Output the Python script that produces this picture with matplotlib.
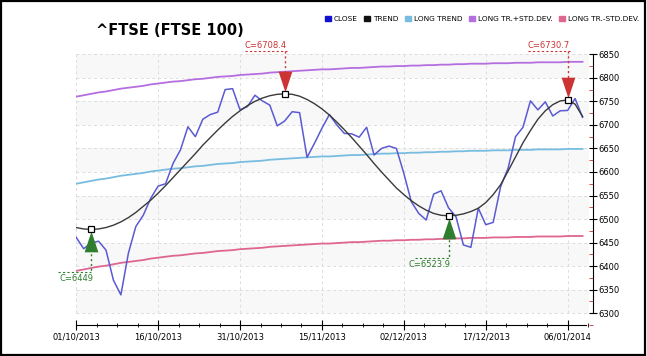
import matplotlib
matplotlib.use('Agg')
import matplotlib.pyplot as plt
from matplotlib.patches import Rectangle, Patch
from matplotlib.ticker import MultipleLocator

# trading days 01/10/2013 .. 08/01/2014 (index on x)
close = [6461, 6437, 6449, 6453, 6434, 6370, 6339, 6427, 6484, 6508,
         6544, 6570, 6575, 6618, 6647, 6696, 6675, 6712, 6722, 6727,
         6775, 6777, 6732, 6739, 6763, 6751, 6742, 6698, 6708.4, 6728,
         6726, 6631, 6661, 6693, 6722, 6700, 6682, 6681, 6674, 6695,
         6636, 6650, 6655, 6650, 6597, 6537, 6512, 6498, 6553, 6560,
         6523.9, 6505, 6445, 6440, 6523, 6488, 6493, 6569, 6608, 6675,
         6695, 6751, 6732, 6749, 6719, 6730, 6730.7, 6756, 6716]

trend = [6482, 6479, 6478, 6479, 6482, 6487, 6494, 6503, 6514, 6527,
         6540, 6555, 6571, 6588, 6605, 6622, 6639, 6657, 6673, 6689,
         6704, 6718, 6730, 6741, 6750, 6757, 6762, 6765, 6766, 6765,
         6761, 6754, 6745, 6734, 6721, 6706, 6690, 6673, 6655, 6637,
         6618, 6600, 6583, 6566, 6552, 6539, 6528, 6519, 6512, 6508,
         6507, 6508, 6511, 6516, 6523, 6535, 6552, 6573, 6602, 6632,
         6662, 6688, 6712, 6730, 6743, 6751, 6753, 6744, 6718]

long_trend = [6575, 6578, 6581, 6584, 6586, 6589, 6592, 6594, 6596, 6598,
              6601, 6603, 6605, 6607, 6608, 6610, 6612, 6613, 6615, 6617,
              6618, 6619, 6621, 6622, 6623, 6624, 6626, 6627, 6628, 6629,
              6630, 6631, 6632, 6633, 6633, 6634, 6635, 6636, 6636, 6637,
              6638, 6639, 6639, 6640, 6640, 6641, 6641, 6642, 6642, 6643,
              6643, 6644, 6644, 6645, 6645, 6645, 6646, 6646, 6646, 6647,
              6647, 6647, 6648, 6648, 6648, 6648, 6649, 6649, 6649]

long_upper = [6760, 6763, 6766, 6769, 6771, 6774, 6777, 6779, 6781, 6783,
              6786, 6788, 6790, 6792, 6793, 6795, 6797, 6798, 6800, 6802,
              6803, 6804, 6806, 6807, 6808, 6809, 6811, 6812, 6813, 6814,
              6815, 6816, 6817, 6818, 6818, 6819, 6820, 6821, 6821, 6822,
              6823, 6824, 6824, 6825, 6825, 6826, 6826, 6827, 6827, 6828,
              6828, 6829, 6829, 6830, 6830, 6830, 6831, 6831, 6831, 6832,
              6832, 6832, 6833, 6833, 6833, 6833, 6834, 6834, 6834]

long_lower = [6390, 6393, 6396, 6399, 6401, 6404, 6407, 6409, 6411, 6413,
              6416, 6418, 6420, 6422, 6423, 6425, 6427, 6428, 6430, 6432,
              6433, 6434, 6436, 6437, 6438, 6439, 6441, 6442, 6443, 6444,
              6445, 6446, 6447, 6448, 6448, 6449, 6450, 6451, 6451, 6452,
              6453, 6454, 6454, 6455, 6455, 6456, 6456, 6457, 6457, 6458,
              6458, 6459, 6459, 6460, 6460, 6460, 6461, 6461, 6461, 6462,
              6462, 6462, 6463, 6463, 6463, 6463, 6464, 6464, 6464]

xtick_idx = [0, 11, 22, 33, 44, 55, 66]
xtick_labels = ['01/10/2013', '16/10/2013', '31/10/2013', '15/11/2013',
                '02/12/2013', '17/12/2013', '06/01/2014']

peak_idx = [28, 66]
trough_idx = [2, 50]

C_CLOSE = '#5a5ad2'
C_TREND = '#3a3a3a'
C_LONG = '#78bde0'
C_UP = '#b56ee0'
C_LOW = '#de6690'
C_RED = '#cc3333'
C_GREEN = '#2f7d2f'

# tall triangle markers, apex at the data point
ARROW_DOWN = [(0, 0), (-0.33, 1), (0.33, 1), (0, 0)]
ARROW_UP = [(0, 0), (-0.33, -1), (0.33, -1), (0, 0)]

fig = plt.figure(figsize=(6.47, 3.56), dpi=100)
ax = fig.add_axes([0.1178, 0.0871, 0.7987, 0.7604])
x = list(range(len(close)))

ax.set_xlim(0, 69.4)
ax.set_ylim(6275, 6850)

# faint banded background + dashed grid
for k, lo in enumerate(range(6300, 6850, 50)):
    if k % 2 == 0:
        ax.axhspan(lo, lo + 50, xmin=0, xmax=68.8 / 69.4, color='#f8f8f8', lw=0, zorder=0)
for lv in range(6300, 6851, 50):
    ax.plot([0, 68.8], [lv, lv], color='#dddddd', lw=0.7, ls=(0, (3, 3)), zorder=1)
for t in xtick_idx:
    ax.plot([t, t], [6300, 6850], color='#dddddd', lw=0.7, ls=(0, (3, 3)), zorder=1)

ax.plot(x, long_upper, color=C_UP, lw=1.3, zorder=3)
ax.plot(x, long_lower, color=C_LOW, lw=1.3, zorder=3)
ax.plot(x, long_trend, color=C_LONG, lw=1.3, zorder=3)
ax.plot(x, close, color=C_CLOSE, lw=1.1, zorder=4)
ax.plot(x, trend, color=C_TREND, lw=1.0, zorder=5)

# peaks: red arrow from label above
for i in peak_idx:
    ty = trend[i]
    lab = 'C=%g' % close[i]
    ax.plot([i, i], [6857, ty + 30], color=C_RED, lw=1, ls=(0, (1.5, 2)), zorder=6, clip_on=False)
    ax.plot(i, ty + 4, marker=ARROW_DOWN, ms=30, color=C_RED, mew=0, zorder=6)
    ax.text(i + 0.3, 6859, lab, color=C_RED, fontsize=6, ha='right', va='bottom', clip_on=False)
    ax.plot([i - 5.3, i + 0.3], [6857, 6857], color=C_RED, lw=0.8, ls=(0, (2, 2)), clip_on=False)
    ax.plot(i, ty, marker='s', ms=4, mfc='white', mec='black', mew=0.9, zorder=7)

# troughs: green arrow with label below
for i in trough_idx:
    ty = trend[i]
    lab = 'C=%g' % close[i]
    ly = ty - 90
    ax.plot([i, i], [ty - 30, ly], color=C_GREEN, lw=1, ls=(0, (1.5, 2)), zorder=6)
    ax.plot(i, ty - 4, marker=ARROW_UP, ms=30, color=C_GREEN, mew=0, zorder=6)
    ax.plot([i - 4.5, i], [ly, ly], color=C_GREEN, lw=0.8, ls=(0, (2, 2)), clip_on=False)
    ax.text(i + 0.3, ly - 4, lab, color=C_GREEN, fontsize=6, ha='right', va='top', clip_on=False)
    ax.plot(i, ty, marker='s', ms=4, mfc='white', mec='black', mew=0.9, zorder=7)

# axes styling
for s in ['top', 'left']:
    ax.spines[s].set_visible(False)
ax.spines['right'].set_bounds(6300, 6850)
ax.spines['bottom'].set_bounds(0, 68.5)
ax.yaxis.tick_right()
ax.set_yticks(range(6300, 6851, 50))
ax.yaxis.set_minor_locator(MultipleLocator(25))
ax.tick_params(axis='y', which='major', direction='inout', length=6, labelsize=6, pad=1)
ax.tick_params(axis='y', which='minor', direction='in', length=3, color=C_RED)
ax.set_xticks(xtick_idx)
ax.set_xticklabels(xtick_labels)
ax.xaxis.set_minor_locator(MultipleLocator(11 / 4))
ax.tick_params(axis='x', which='major', direction='inout', length=7, labelsize=6, pad=2)
ax.tick_params(axis='x', which='minor', direction='inout', length=3)

fig.text(0.148, 0.915, '^FTSE (FTSE 100)', fontsize=10.5, fontweight='bold', va='center')

handles = [Patch(color='#1010d0'), Patch(color='#111111'), Patch(color=C_LONG),
           Patch(color=C_UP), Patch(color=C_LOW)]
names = ['CLOSE', 'TREND', 'LONG TREND', 'LONG TR.+STD.DEV.', 'LONG TR.-STD.DEV.']
fig.legend(handles, names, loc='upper right', bbox_to_anchor=(0.998, 0.975), ncol=5,
           frameon=False, fontsize=5.3, handlelength=0.8, handleheight=0.8,
           handletextpad=0.4, columnspacing=0.9)

fig.patches.append(Rectangle((0.002, 0.003), 0.995, 0.993, transform=fig.transFigure,
                             fill=False, ec='black', lw=1.6))

fig.savefig('out.png', dpi=100)
